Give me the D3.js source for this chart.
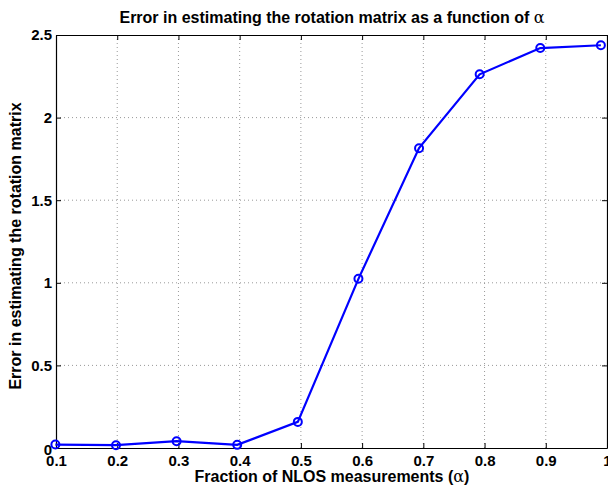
<!DOCTYPE html>
<html>
<head>
<meta charset="utf-8">
<script src="https://cdn.jsdelivr.net/npm/d3@7"></script>
<style>
  body { margin: 0; background: #fff; }
  text { font-family: "Liberation Sans", Arial, Helvetica, sans-serif; font-weight: bold; fill: #000; }
  .grid line { stroke: #999; stroke-dasharray: 1,3; }
</style>
</head>
<body>
<div id="chart"></div>
<script>
var width = 608,
    height = 486;

// data
var alphas = [0.099, 0.198, 0.297, 0.396, 0.495, 0.594, 0.693, 0.792, 0.891, 0.99];
var errors = [0.021, 0.017, 0.041, 0.019, 0.158, 1.024, 1.815, 2.262, 2.421, 2.438];
var xTicks = [0.1, 0.2, 0.3, 0.4, 0.5, 0.6, 0.7, 0.8, 0.9, 1];
var yTicks = [0, 0.5, 1, 1.5, 2, 2.5];

var plotLeft = 56, plotRight = 607, plotTop = 35, plotBottom = 448;

var svg = d3.select("#chart")
    .append("svg")
    .attr("width", width)
    .attr("height", height);

var x = d3.scaleLinear().domain([0.1, 1]).range([plotLeft, plotRight]);
var y = d3.scaleLinear().domain([0, 2.5]).range([plotBottom, plotTop]);

// dotted grid
var grid = svg.append("g").attr("class", "grid");
grid.selectAll(".gx")
    .data(xTicks.slice(1, -1))
    .enter().append("line")
    .attr("x1", d => x(d)).attr("x2", d => x(d))
    .attr("y1", plotTop).attr("y2", plotBottom);
grid.selectAll(".gy")
    .data(yTicks.slice(1, -1))
    .enter().append("line")
    .attr("y1", d => y(d)).attr("y2", d => y(d))
    .attr("x1", plotLeft).attr("x2", plotRight);

// axes, ticks pointing inward like matlab
var fmt = d => d3.format("")(d);
svg.append("g")
    .attr("transform", "translate(0," + plotBottom + ")")
    .call(d3.axisBottom(x).tickValues(xTicks).tickSizeInner(-5).tickSizeOuter(0).tickPadding(7).tickFormat(fmt))
    .call(g => g.selectAll("text").style("font-size", "15px"));
svg.append("g")
    .attr("transform", "translate(0," + plotTop + ")")
    .call(d3.axisTop(x).tickValues(xTicks).tickSizeInner(-5).tickSizeOuter(0).tickFormat(""));
svg.append("g")
    .attr("transform", "translate(" + plotLeft + ",0)")
    .call(d3.axisLeft(y).tickValues(yTicks).tickSizeInner(-5).tickSizeOuter(0).tickPadding(4).tickFormat(fmt))
    .call(g => g.selectAll("text").style("font-size", "15px"));
svg.append("g")
    .attr("transform", "translate(" + plotRight + ",0)")
    .call(d3.axisRight(y).tickValues(yTicks).tickSizeInner(-5).tickSizeOuter(0).tickFormat(""));

svg.selectAll(".domain").attr("stroke", "#000").attr("stroke-width", 1.2);
svg.selectAll(".tick line").attr("stroke", "#000");

// the "0" y label sits a touch lower in the original
svg.selectAll(".tick text").filter(d => d === 0).attr("dy", "0.45em");

// series
var pts = alphas.map((a, i) => [a, errors[i]]);
svg.append("path")
    .datum(pts)
    .attr("fill", "none")
    .attr("stroke", "#0000ff")
    .attr("stroke-width", 2.2)
    .attr("d", d3.line().x(d => x(d[0])).y(d => y(d[1])));
svg.append("g")
    .selectAll("circle")
    .data(pts)
    .enter().append("circle")
    .attr("cx", d => x(d[0]))
    .attr("cy", d => y(d[1]))
    .attr("r", 4)
    .attr("fill", "none")
    .attr("stroke", "#0000ff")
    .attr("stroke-width", 2);

// titles
var title = svg.append("text")
    .attr("x", 332).attr("y", 23)
    .attr("text-anchor", "middle")
    .style("font-size", "16px")
    .text("Error in estimating the rotation matrix as a function of ");
title.append("tspan").style("font-family", "'DejaVu Serif', 'Liberation Serif', serif").style("font-weight", "normal").text("α");

var xl = svg.append("text")
    .attr("x", 332).attr("y", 482)
    .attr("text-anchor", "middle")
    .style("font-size", "16px")
    .text("Fraction of NLOS measurements (");
xl.append("tspan").style("font-family", "'DejaVu Serif', 'Liberation Serif', serif").style("font-weight", "normal").text("α");
xl.append("tspan").text(")");

svg.append("text")
    .attr("transform", "translate(21,246) rotate(-90)")
    .attr("text-anchor", "middle")
    .style("font-size", "16px")
    .text("Error in estimating the rotation matrix");
</script>
</body>
</html>
